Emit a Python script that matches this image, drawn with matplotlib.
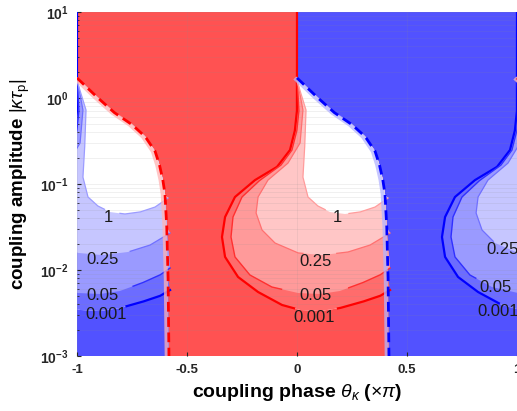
import numpy as np
import matplotlib
matplotlib.use("Agg")
import matplotlib.pyplot as plt

plt.rcParams['font.family'] = ['Liberation Sans', 'DejaVu Sans']
plt.rcParams['mathtext.fontset'] = 'custom'
plt.rcParams['mathtext.rm'] = 'Liberation Sans'
plt.rcParams['mathtext.it'] = 'Liberation Sans:italic'
plt.rcParams['mathtext.bf'] = 'Liberation Sans:bold'

# dashed edge of the saturated region, x relative to the cell offset (x pi)
edge_x = [-1.000, -0.91, -0.83, -0.75, -0.69, -0.645, -0.625, -0.61, -0.60, -0.592, -0.586, -0.582]
edge_y = [1.71, 1.03, 0.676, 0.49, 0.355, 0.24, 0.166, 0.112, 0.0759, 0.0316, 0.00794, 0.001]

# contour lines of one plume (levels 0.001, 0.05, 0.25, 1)
c001_x = [0.0, 0.0, -0.009, -0.032, -0.091, -0.191, -0.282, -0.327, -0.341, -0.327, -0.268, -0.177,
          -0.068, 0.014, 0.105, 0.195, 0.295, 0.377, 0.423]
c001_y = [10.0, 0.724, 0.425, 0.248, 0.158, 0.111, 0.0706, 0.0413, 0.0242, 0.0142, 0.0083, 0.00555,
          0.00392, 0.00343, 0.00333, 0.00361, 0.00425, 0.00499, 0.00585]
c005_x = [0.0, 0.009, 0.0, -0.023, -0.073, -0.168, -0.25, -0.291, -0.30, -0.282, -0.214, -0.114,
          0.005, 0.105, 0.195, 0.295, 0.377, 0.423]
c005_y = [1.71, 0.724, 0.425, 0.248, 0.166, 0.111, 0.0706, 0.0413, 0.0242, 0.0142, 0.00875, 0.00634,
          0.0054, 0.00526, 0.0057, 0.00706, 0.00875, 0.01054]
c025_x = [0.0, 0.027, 0.014, -0.041, -0.132, -0.177, -0.186, -0.159, -0.1, 0.005, 0.114, 0.232, 0.332, 0.423]
c025_y = [1.71, 0.724, 0.3, 0.175, 0.111, 0.0706, 0.046, 0.0292, 0.0206, 0.0158, 0.0149, 0.0162, 0.0195, 0.0269]
c1_x = [0.0, 0.041, 0.036, 0.027, 0.05, 0.095, 0.15, 0.218, 0.286, 0.355, 0.414]
c1_y = [1.585, 0.724, 0.3, 0.12, 0.0706, 0.0555, 0.0472, 0.0448, 0.0472, 0.054, 0.0687]

# cells repeat every pi, colours alternate
cell_offset = [-1, 0, 1, 2]
cell_kind = ['blue', 'red', 'blue', 'red']

# inline contour labels (level index 0..3 = 0.001, 0.05, 0.25, 1)
lab_text = ['1', '0.25', '0.05', '0.001', '1', '0.25', '0.05', '0.001', '0.25', '0.05', '0.001']
lab_level = [3, 2, 1, 0, 3, 2, 1, 0, 2, 1, 0]
lab_x = [0.182, 0.086, 0.082, 0.077, -0.859, -0.886, -0.886, -0.868, 0.936, 0.90, 0.914]
lab_y = [0.0413, 0.0124, 0.00512, 0.00284, 0.0403, 0.0131, 0.00512, 0.0030, 0.0171, 0.00634, 0.00325]

xticks = [-1, -0.5, 0, 0.5, 1]
xtick_labels = ['-1', '-0.5', '0', '0.5', '1']
yticks = [1e-3, 1e-2, 1e-1, 1e0, 1e1]
ytick_labels = [r'$\mathbf{10^{-3}}$', r'$\mathbf{10^{-2}}$', r'$\mathbf{10^{-1}}$', r'$\mathbf{10^{0}}$', r'$\mathbf{10^{1}}$']

style = {
    'red': dict(dense='#ff5252', band=['#ff6c6c', '#ff9a9a', '#ffc6c6', 'white'],
                line=['#ff0000', '#ff3030', '#ff7070', '#ff9c9c'], halo='#ffb4b4'),
    'blue': dict(dense='#5252ff', band=['#6c6cff', '#9a9aff', '#c6c6ff', 'white'],
                 line=['#0000ff', '#3030ff', '#7070ff', '#9c9cff'], halo='#b4b4ff'),
}
lws = [1.6, 1.0, 0.9, 0.9]

contours = [(c001_x, c001_y), (c005_x, c005_y), (c025_x, c025_y), (c1_x, c1_y)]
ex = np.array(edge_x)
ey = np.array(edge_y)


def enclosed(cx, cy, off):
    # contour, then back up the next cell's dashed edge
    keep = ey > cy[-1]
    px = np.concatenate([np.array(cx) + off, (ex[keep] + off + 1)[::-1]])
    py = np.concatenate([cy, ey[keep][::-1]])
    return px, py


def dense(off):
    low = ey < c001_y[-1]
    px = [off - 1] + list(np.array(c001_x) + off) + list(ex[low] + off + 1) + list((ex + off)[::-1])
    py = [10.0] + list(c001_y) + list(ey[low]) + list(ey[::-1])
    return px, py


def with_gaps(x, y, level):
    # break the drawn line where an inline label sits (like clabel)
    lx = np.log10(y)
    xs, ls = [], []
    for i in range(len(x) - 1):
        t = np.linspace(0, 1, 30, endpoint=False)
        xs.append(x[i] + t * (x[i + 1] - x[i]))
        ls.append(lx[i] + t * (lx[i + 1] - lx[i]))
    xs.append([x[-1]])
    ls.append([lx[-1]])
    xs = np.concatenate(xs)
    ls = np.concatenate(ls)
    for t, tx, ty, lv in zip(lab_text, lab_x, lab_y, lab_level):
        if lv != level:
            continue
        half_w = (4.5 + 7.2 * len(t)) / 220
        hit = (np.abs(xs - tx) < half_w) & (np.abs(ls - np.log10(ty)) < 0.1)
        xs = np.where(hit, np.nan, xs)
    return xs, 10 ** ls


fig = plt.figure(figsize=(5.17, 4.11), dpi=100)
ax = fig.add_axes([77 / 517, 55 / 411, 440 / 517, 344 / 411])
ax.set_yscale('log')

for off, kind in zip(cell_offset, cell_kind):
    st = style[kind]
    px, py = dense(off)
    ax.fill(px, py, color=st['dense'], lw=0, zorder=1)
    for k, (cx, cy) in enumerate(contours):
        px, py = enclosed(cx, cy, off)
        ax.fill(px, py, color=st['band'][k], lw=0, zorder=1.1 + 0.1 * k)

for off, kind in zip(cell_offset, cell_kind):
    st = style[kind]
    for k, (cx, cy) in enumerate(contours):
        gx, gy = with_gaps(np.array(cx) + off, np.array(cy), k)
        ax.plot(gx, gy, color=st['line'][k], lw=lws[k], zorder=3)
    ax.plot(ex + off - 0.01, ey, color=st['halo'], lw=3, alpha=0.75, zorder=3.1, solid_capstyle='butt')
    ax.plot(ex + off, ey, color=st['line'][0], lw=2, ls=(0, (3.5, 2)), zorder=3.2)

for t, x, y in zip(lab_text, lab_x, lab_y):
    ax.text(x, y, t, fontsize=12, ha='center', va='center', color='#1a1a1a', zorder=4)

ax.set_xlim(-1, 1)
ax.set_ylim(1e-3, 1e1)
ax.grid(True, which='both', color='0.55', alpha=0.15, lw=0.6)
ax.set_axisbelow(False)
for s in ax.spines.values():
    s.set_visible(False)

ax.set_xticks(xticks)
ax.set_xticklabels(xtick_labels, fontsize=9.5, fontweight='bold', color='#262626')
ax.set_yticks(yticks)
ax.set_yticklabels(ytick_labels, fontsize=10, color='#262626')
ax.tick_params(which='both', direction='in', color='#262626')
ax.tick_params(which='major', length=3, pad=6)
ax.tick_params(which='minor', length=1.5)

ax.set_xlabel(r'coupling phase $\theta_{\kappa}$ ($\times\pi$)', fontsize=14, fontweight='bold', labelpad=4)
ax.set_ylabel(r'coupling amplitude $|\kappa\tau_{\mathrm{p}}|$', fontsize=13.5, fontweight='bold', labelpad=6)

fig.savefig('out.png', dpi=100)
